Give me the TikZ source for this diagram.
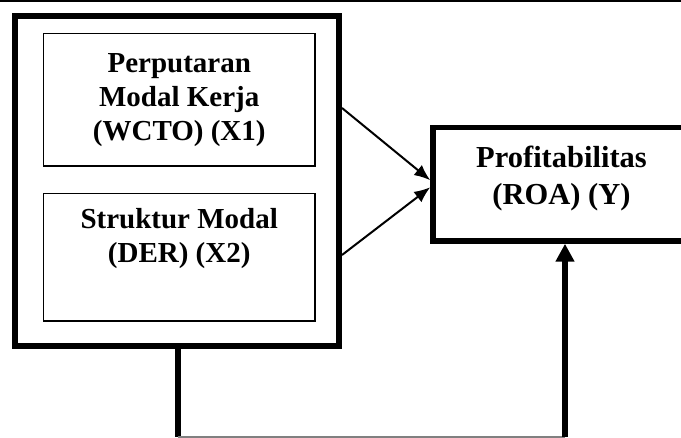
\documentclass[tikz,border=0pt]{standalone}
\usepackage{fontspec}
\setmainfont{Liberation Serif}
\usetikzlibrary{arrows.meta,calc}
\begin{document}
\begin{tikzpicture}[x=1pt,y=-1pt,
  outerbox/.style={draw,line width=6pt,minimum width=324.5pt,minimum height=330pt,inner sep=0pt},
  innerbox/.style={draw,line width=1.8pt,minimum width=271.5pt,inner sep=0pt},
  ybox/.style={draw,line width=5.5pt,minimum width=257pt,minimum height=113.5pt,inner sep=0pt},
  boxtext/.style={align=center,inner sep=0pt,font=\fontsize{29}{34}\selectfont\bfseries},
  ytext/.style={align=center,inner sep=0pt,font=\fontsize{30.5}{37}\selectfont\bfseries},
  thinarrow/.style={line width=2pt,-{Latex[length=16pt,width=13pt]}},
  thickline/.style={line width=6pt},
  thickarrow/.style={line width=6pt,-{Triangle[length=18pt,width=18pt]}},
  baseline/.style={draw=gray,line width=1.2pt}]
\useasboundingbox (0,0) rectangle (681,438);
\draw[line width=2pt] (0,1) -- (681,1);
\node[outerbox] (outer) at (176.75,181) {};
\node[innerbox,minimum height=132.5pt,boxtext] (x1) at (179.25,99.75) {Perputaran\\Modal Kerja\\(WCTO) (X1)};
\node[innerbox,minimum height=127.5pt] (x2) at (179.25,257.25) {};
\node[boxtext] (x2t) at ($(x2.north)+(0,46)$) {Struktur Modal\\(DER) (X2)};
\node[ybox] (y) at (561.5,184.25) {};
\node[ytext] (yt) at ($(y.center)+(0,-5.5)$) {Profitabilitas\\(ROA) (Y)};
\coordinate (a1) at ($(outer.east)+(0,-73)$);
\coordinate (a2) at ($(outer.east)+(0,74)$);
\draw[thinarrow] (a1) -- ($(y.west)+(0,-4)$);
\draw[thinarrow] (a2) -- ($(y.west)+(0,3)$);
\coordinate (b0) at ($(outer.south)+(1.25,0)$);
\coordinate (c1) at (178,437);
\coordinate (c2) at (565,437);
\draw[thickline] (b0) -- (c1);
\draw[baseline] (c1) -- (c2);
\draw[thickarrow] (c2) -- (y.south -| c2);
\end{tikzpicture}
\end{document}
